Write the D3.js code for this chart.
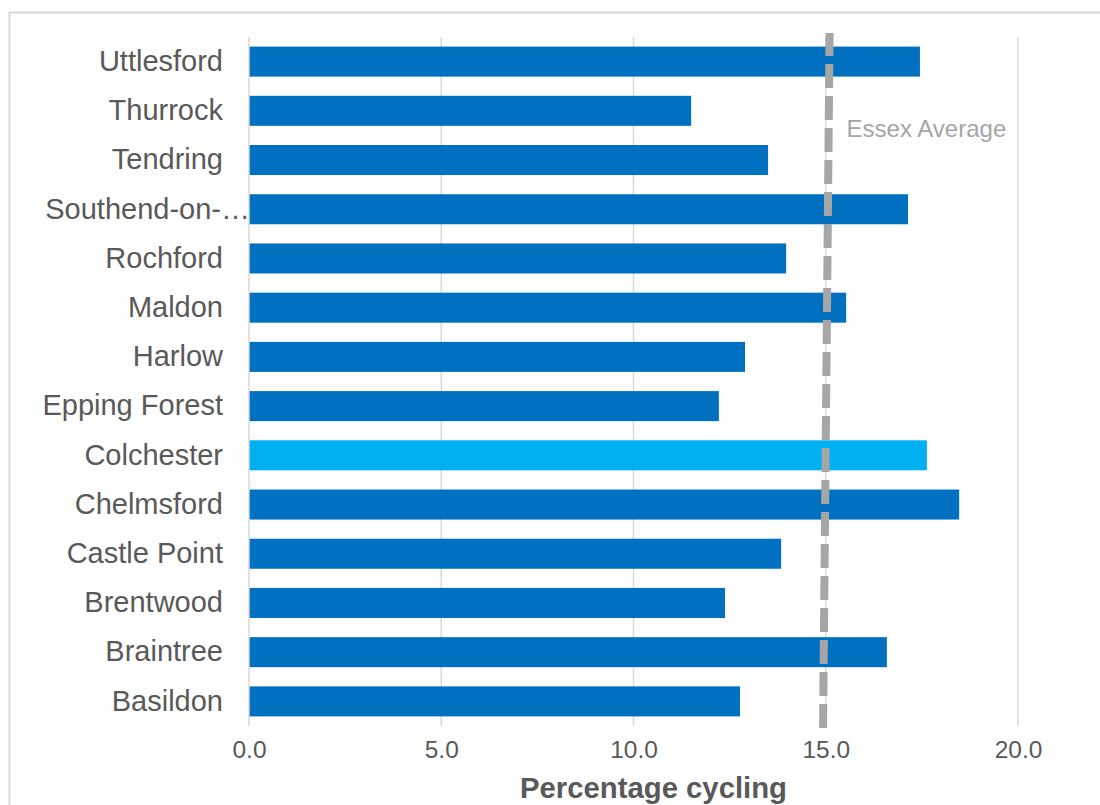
<!DOCTYPE html>
<html>
<head>
<meta charset="utf-8">
<script src="https://cdn.jsdelivr.net/npm/d3@7"></script>
<style>
  body { margin: 0; background: #fff; }
  text { font-family: "Liberation Sans", Arial, sans-serif; }
</style>
</head>
<body>
<script>
// districts, bottom to top as in the chart
var districts = ["Basildon", "Braintree", "Brentwood", "Castle Point", "Chelmsford",
                 "Colchester", "Epping Forest", "Harlow", "Maldon", "Rochford",
                 "Southend-on-…", "Tendring", "Thurrock", "Uttlesford"];
var cycling = [12.77, 16.59, 12.38, 13.84, 18.47,
               17.63, 12.22, 12.9, 15.53, 13.97,
               17.14, 13.5, 11.5, 17.45];
var highlight = "Colchester";
var xTicks = [0, 5, 10, 15, 20];
// Essex average line (drawn slightly slanted in the original)
var avgTop = 15.1, avgBottom = 14.93;
var avgLabel = "Essex Average";

var W = 1100, H = 805;
var margin = {top: 37, right: 82, bottom: 79, left: 249},
    width = W - margin.left - margin.right,
    height = H - margin.top - margin.bottom;

var svg = d3.select("body").append("svg")
    .attr("width", W)
    .attr("height", H);

// outer chart border
svg.append("rect")
    .attr("x", 9.5).attr("y", 12.5)
    .attr("width", W + 20).attr("height", H + 20)
    .attr("fill", "none")
    .attr("stroke", "#d9d9d9")
    .attr("stroke-width", 2);

var g = svg.append("g")
    .attr("transform", "translate(" + margin.left + "," + margin.top + ")");

var x = d3.scaleLinear().domain([0, 20]).range([0, 769]);
var y = d3.scaleBand().domain(districts.slice().reverse()).range([0, height]).paddingInner(0.39).paddingOuter(0.195);

// gridlines
g.selectAll(".grid")
    .data(xTicks.slice(1))
    .enter().append("line")
    .attr("x1", function(d) { return x(d); })
    .attr("x2", function(d) { return x(d); })
    .attr("y1", 0).attr("y2", height)
    .attr("stroke", "#d9d9d9")
    .attr("stroke-width", 1.5);

// bars
g.selectAll(".bar")
    .data(districts)
    .enter().append("rect")
    .attr("class", "bar")
    .attr("x", 0)
    .attr("y", function(d) { return y(d); })
    .attr("width", function(d, i) { return x(cycling[i]); })
    .attr("height", y.bandwidth())
    .attr("fill", function(d) { return d == highlight ? "#00b0f0" : "#0070c0"; });

// y axis line
g.append("line")
    .attr("x1", 0).attr("x2", 0)
    .attr("y1", 0).attr("y2", height)
    .attr("stroke", "#d9d9d9")
    .attr("stroke-width", 1.5);

// category labels
var yAxis = g.append("g")
    .call(d3.axisLeft(y).tickSize(0).tickPadding(26));
yAxis.select(".domain").remove();
yAxis.selectAll("text")
    .attr("font-size", 29)
    .attr("fill", "#595959")
    .attr("font-family", "Liberation Sans, Arial, sans-serif")
    .attr("dx", function(d) { return d == "Southend-on-…" ? 27 : 0; });

// x axis
var xAxis = g.append("g")
    .attr("transform", "translate(0," + height + ")")
    .call(d3.axisBottom(x).tickValues(xTicks).tickFormat(d3.format(".1f")).tickSize(0).tickPadding(15));
xAxis.select(".domain").remove();
xAxis.selectAll("text")
    .attr("font-size", 24.5)
    .attr("fill", "#595959")
    .attr("font-family", "Liberation Sans, Arial, sans-serif");

// axis title
g.append("text")
    .attr("x", x(10) + 20)
    .attr("y", height + 72)
    .attr("text-anchor", "middle")
    .attr("font-size", 29.3)
    .attr("font-weight", "bold")
    .attr("fill", "#595959")
    .text("Percentage cycling");

// Essex average dashed line
var yAvg = d3.scaleLinear().domain([0, 1]).range([height + 2, -4]);
g.append("line")
    .attr("x1", x(avgBottom)).attr("y1", yAvg(0))
    .attr("x2", x(avgTop)).attr("y2", yAvg(1))
    .attr("stroke", "#a6a6a6")
    .attr("stroke-width", 8)
    .attr("stroke-dasharray", "24,8");

g.append("text")
    .attr("x", x(avgTop) + 17)
    .attr("y", y("Thurrock") + y.bandwidth() / 2 + 26)
    .attr("font-size", 24)
    .attr("fill", "#a6a6a6")
    .text(avgLabel);
</script>
</body>
</html>
